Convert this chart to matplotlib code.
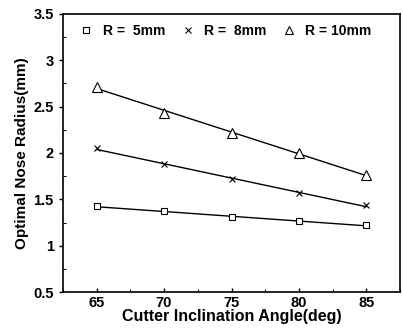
import numpy as np
import matplotlib.pyplot as plt
from matplotlib.ticker import MultipleLocator

plt.rcParams['font.family'] = ['Liberation Sans', 'DejaVu Sans']
plt.rcParams['font.weight'] = 'bold'

# cutter inclination angle (deg)
angle = [65, 70, 75, 80, 85]
# optimal nose radius (mm) for each cutter radius
r5 = [1.425, 1.37, 1.305, 1.265, 1.22]
r8 = [2.05, 1.88, 1.715, 1.565, 1.435]
r10 = [2.715, 2.435, 2.22, 1.995, 1.76]

series = [
    (r5, 's', 'R =  5mm'),
    (r8, 'x', 'R =  8mm'),
    (r10, '^', 'R = 10mm'),
]

fig = plt.figure(figsize=(4.03, 3.3), dpi=100)
ax = fig.add_axes([0.156, 0.115, 0.837, 0.843])

xs = np.array(angle, dtype=float)
for vals, mk, lab in series:
    # straight fitted line through the points, as in the original
    k, b = np.polyfit(xs, vals, 1)
    ax.plot(xs, k * xs + b, color='black', lw=1.0)
    ax.plot(xs, vals, linestyle='none', marker=mk, markersize=5 if mk != '^' else 7,
            markerfacecolor='white' if mk != 'x' else 'black', markeredgecolor='black',
            markeredgewidth=0.8, label=lab)

ax.set_xlim(62.5, 87.5)
ax.set_ylim(0.5, 3.5)
ax.set_xticks(angle)
ax.set_yticks([0.5, 1, 1.5, 2, 2.5, 3, 3.5])
ax.set_yticklabels(['0.5', '1', '1.5', '2', '2.5', '3', '3.5'])
ax.yaxis.set_minor_locator(MultipleLocator(0.25))
ax.xaxis.set_minor_locator(MultipleLocator(2.5))
ax.tick_params(which='major', direction='out', length=3, width=1, labelsize=10.5)
ax.tick_params(axis='x', which='major', direction='in', pad=3)
ax.tick_params(which='minor', direction='in', length=2, width=0.8)
for s in ax.spines.values():
    s.set_linewidth(1.2)

ax.set_xlabel('Cutter Inclination Angle(deg)', fontsize=11.5, fontweight='bold', labelpad=-1)
ax.set_ylabel('Optimal Nose Radius(mm)', fontsize=11, fontweight='bold', labelpad=3)

leg = ax.legend(loc='upper left', ncol=3, frameon=False, fontsize=10, handletextpad=0.7,
                columnspacing=1.1, handlelength=1.0, borderaxespad=0.3,
                bbox_to_anchor=(0.02, 1.0), markerscale=0.8)

fig.savefig('out.png', dpi=100)
